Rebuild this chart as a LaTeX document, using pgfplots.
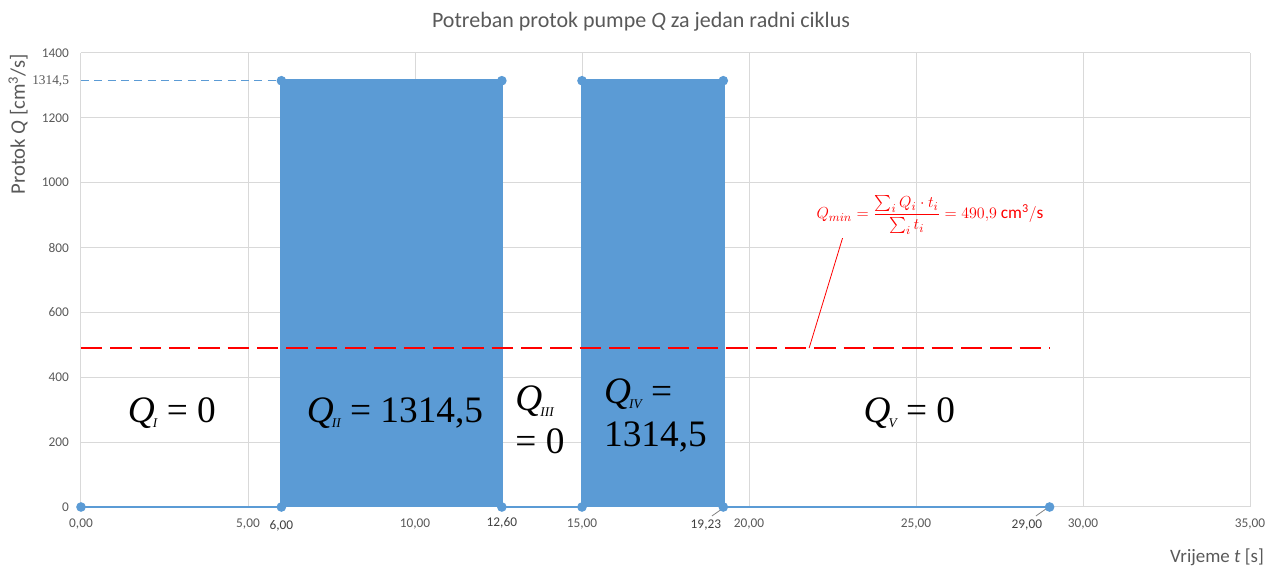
\documentclass[border=0pt]{standalone}
\usepackage{amsmath}
\usepackage{pgfplots}
\pgfplotsset{compat=1.18}
\usepackage{fontspec}
\setmainfont{Carlito}
\newfontfamily\tnr{Liberation Serif}
\definecolor{xblue}{RGB}{91,155,213}
\definecolor{txtgray}{RGB}{89,89,89}
\definecolor{gridgray}{RGB}{217,217,217}
\definecolor{lblgray}{RGB}{64,64,64}
\newcommand{\QQ}[1]{{\tnr\itshape Q\kern-0.05em\raisebox{-0.3ex}{\fontsize{10}{10}\selectfont #1}}}
\newcommand{\extralab}{{\tnr\fontsize{10}{11}\selectfont 1314,5}}
\begin{document}
\begin{tikzpicture}
\path[use as bounding box] (-60.75pt,-44.25pt) rectangle (889.5pt,380.25pt);
\begin{axis}[
  scale only axis, width=876.75pt, height=340.5pt,
  xmin=0, xmax=35, ymin=0, ymax=1400,
  axis line style={draw=none},
  major tick length=0pt,
  grid=major,
  major grid style={gridgray, line width=0.75pt},
  xtick={0,5,...,35}, ytick={0,200,...,1400},
  extra y ticks={1314.5}, extra y tick labels={\extralab},
  extra y tick style={grid=none, tick label style={text=black!85, xshift=0pt}},
  x tick label style={font=\fontsize{10}{12}\selectfont, text=txtgray, yshift=-5.5pt,
    /pgf/number format/.cd, fixed, fixed zerofill, precision=2, use comma, assume math mode=true},
  y tick label style={font=\fontsize{10}{12}\selectfont, text=txtgray, xshift=-5.5pt,
    /pgf/number format/.cd, 1000 sep={}, assume math mode=true},
  clip=false,
]
\addplot[fill=xblue, draw=none] coordinates {(6,0)(6,1314.5)(12.6,1314.5)(12.6,0)} \closedcycle;
\addplot[fill=xblue, draw=none] coordinates {(15,0)(15,1314.5)(19.23,1314.5)(19.23,0)} \closedcycle;
\addplot[xblue, line width=0.75pt, dash pattern=on 6pt off 4pt] coordinates {(0,1314.5)(6,1314.5)};
\addplot[xblue, line width=1.9pt, mark=*, mark size=2.6pt] coordinates {
  (0,0)(6,0)(6,1314.5)(12.6,1314.5)(12.6,0)(15,0)(15,1314.5)(19.23,1314.5)(19.23,0)(29,0)};
\addplot[red, line width=1.9pt, dash pattern=on 16pt off 6pt] coordinates {(0,490.9)(29,490.9)};
% data labels
\node[lblgray, font=\fontsize{10}{12}\selectfont] at (axis cs:6,-59) {6,00};
\node[lblgray, font=\fontsize{10}{12}\selectfont] at (axis cs:12.6,-49) {12,60};
\node[lblgray, font=\fontsize{10}{12}\selectfont] at (axis cs:18.71,-55) {19,23};
\node[lblgray, font=\fontsize{10}{12}\selectfont] at (axis cs:28.32,-55) {29,00};
\draw[gray, line width=0.6pt] (axis cs:18.89,-27.7) -- (axis cs:19.19,-6);
\draw[gray, line width=0.6pt] (axis cs:28.59,-27.7) -- (axis cs:28.89,-6);
% big labels
\node[font=\fontsize{28}{32}\selectfont\tnr] at (axis cs:2.72,290) {\QQ{I} = 0};
\node[font=\fontsize{28}{32}\selectfont\tnr] at (axis cs:9.4,290) {\QQ{II} = 1314,5};
\node[font=\fontsize{28}{32}\selectfont\tnr, align=left] at (axis cs:13.74,268) {\QQ{III}\\= 0};
\node[font=\fontsize{28}{32}\selectfont\tnr, align=left] at (axis cs:17.2,282) {\QQ{IV} =\\1314,5};
\node[font=\fontsize{28}{32}\selectfont\tnr] at (axis cs:24.8,290) {\QQ{V} = 0};
\draw[red, line width=0.6pt] (axis cs:22.8,829) -- (axis cs:21.8,490);
\end{axis}
\node[red, font=\fontsize{13}{15}\selectfont] at (636.75pt,219pt) {$Q_{min} = \dfrac{\sum_i Q_i\cdot t_i}{\sum_i t_i} = 490{,}9\ \mathrm{cm^3/s}$};
\node[txtgray, font=\fontsize{16.5}{18}\selectfont] at (420pt,364pt) {Potreban protok pumpe \textit{Q} za jedan radni ciklus};
\node[txtgray, font=\fontsize{15.5}{17}\selectfont, rotate=90] at (-47.25pt,287pt) {Protok \textit{Q} [cm\textsuperscript{3}/s]};
\node[txtgray, font=\fontsize{14.2}{16}\selectfont] at (852pt,-37.5pt) {Vrijeme \textit{t} [s]};
\end{tikzpicture}
\end{document}
